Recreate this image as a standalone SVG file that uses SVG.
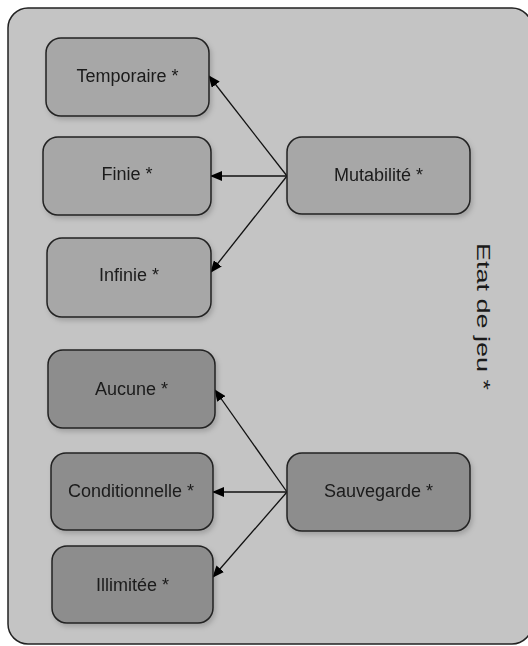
<svg xmlns="http://www.w3.org/2000/svg" width="528" height="646" viewBox="0 0 528 646">
  <style>
    .container { fill: #c4c4c4; stroke: #222; stroke-width: 1.5; }
    .light { fill: #a7a7a7; stroke: #222; stroke-width: 1.5; }
    .dark { fill: #8d8d8d; stroke: #222; stroke-width: 1.5; }
    .lbl { font-family: "Liberation Sans", Arial, sans-serif; font-size: 18px; fill: #1a1a1a; text-anchor: middle; }
    .title { font-family: "Liberation Sans", Arial, sans-serif; font-size: 18px; fill: #1a1a1a; }
    .edge { stroke: #111; stroke-width: 1.3; fill: none; marker-end: url(#arrow); }
  </style>
  <defs>
    <marker id="arrow" markerWidth="12" markerHeight="10" refX="11" refY="5" orient="auto" markerUnits="userSpaceOnUse">
      <path d="M0,0 L12,5 L0,10 z" fill="#000"/>
    </marker>
    <filter id="sh" x="-10%" y="-10%" width="130%" height="140%">
      <feDropShadow dx="2" dy="3" stdDeviation="2.5" flood-color="#000" flood-opacity="0.18"/>
    </filter>
  </defs>

  <g id="etat-de-jeu">
    <rect class="container" x="8" y="8" width="524" height="636" rx="20" ry="20"/>
    <text class="title" transform="translate(477,243) rotate(90) scale(1.5,1)">Etat de jeu *</text>
  </g>

  <g id="connectors">
    <line class="edge" x1="287" y1="176" x2="209" y2="76"/>
    <line class="edge" x1="287" y1="176" x2="211" y2="176"/>
    <line class="edge" x1="287" y1="176" x2="211" y2="272"/>
    <line class="edge" x1="287" y1="492" x2="215" y2="390"/>
    <line class="edge" x1="287" y1="492" x2="213" y2="492"/>
    <line class="edge" x1="287" y1="492" x2="213" y2="577"/>
  </g>

  <g id="temporaire" filter="url(#sh)">
    <rect class="light" x="46" y="38" width="163" height="78" rx="15" ry="15"/>
    <text class="lbl" x="127.5" y="82">Temporaire *</text>
  </g>
  <g id="finie" filter="url(#sh)">
    <rect class="light" x="43" y="137" width="168" height="78" rx="15" ry="15"/>
    <text class="lbl" x="127" y="180">Finie *</text>
  </g>
  <g id="infinie" filter="url(#sh)">
    <rect class="light" x="47" y="238" width="164" height="79" rx="15" ry="15"/>
    <text class="lbl" x="129" y="281">Infinie *</text>
  </g>
  <g id="mutabilite" filter="url(#sh)">
    <rect class="light" x="287" y="137" width="183" height="77" rx="15" ry="15"/>
    <text class="lbl" x="378.5" y="181">Mutabilité *</text>
  </g>

  <g id="aucune" filter="url(#sh)">
    <rect class="dark" x="48" y="350" width="167" height="78" rx="15" ry="15"/>
    <text class="lbl" x="131.5" y="395">Aucune *</text>
  </g>
  <g id="conditionnelle" filter="url(#sh)">
    <rect class="dark" x="51" y="453" width="162" height="77" rx="15" ry="15"/>
    <text class="lbl" x="131" y="497">Conditionnelle *</text>
  </g>
  <g id="illimitee" filter="url(#sh)">
    <rect class="dark" x="52" y="546" width="161" height="77" rx="15" ry="15"/>
    <text class="lbl" x="132.5" y="591">Illimitée *</text>
  </g>
  <g id="sauvegarde" filter="url(#sh)">
    <rect class="dark" x="287" y="453" width="183" height="78" rx="15" ry="15"/>
    <text class="lbl" x="378.5" y="497">Sauvegarde *</text>
  </g>
</svg>
